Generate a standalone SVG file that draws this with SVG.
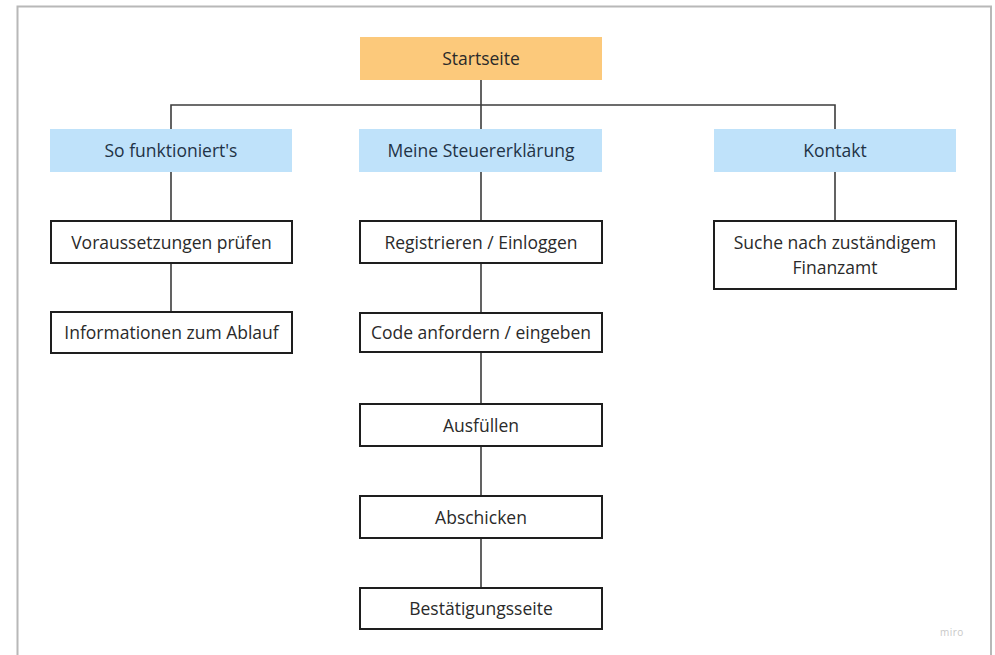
<svg xmlns="http://www.w3.org/2000/svg" width="995" height="655" viewBox="0 0 995 655">
<style>
.frame{fill:#ffffff;stroke:#b8b8b8;stroke-width:2}
.top{fill:#fcc97b}
.sec{fill:#bfe2fa}
.box{fill:#ffffff;stroke:#1e1e1e;stroke-width:2}
.lbl{font-family:"Open Sans","Noto Sans",sans-serif;font-size:17.5px;fill:#2a2a2a;text-anchor:middle;dominant-baseline:central}
.sl{fill:#1f3346}
.conn{fill:none;stroke:#3c3c3c;stroke-width:1.6}
.wm{font-family:"Open Sans",sans-serif;font-size:10px;fill:#c8c8c8;letter-spacing:0.5px}
</style>
<rect x="0" y="0" width="995" height="655" fill="#ffffff"/>
<path class="frame" d="M17.5 670 V6.5 H991 V670"/>
<g id="connectors">
<path class="conn" d="M481 80 V129"/>
<path class="conn" d="M171 129 V105 H835 V129"/>
<path class="conn" d="M171 172 V221 M171 263 V312"/>
<path class="conn" d="M481 172 V221 M481 263 V313 M481 352 V404 M481 446 V496 M481 538 V588"/>
<path class="conn" d="M835 172 V221"/>
</g>
<g id="startseite"><rect class="top" x="360" y="37" width="242" height="43"/><text class="lbl" x="481" y="58">Startseite</text></g>
<g id="so-funktionierts"><rect class="sec" x="50" y="129" width="242" height="43"/><text class="lbl sl" x="171" y="150">So funktioniert's</text></g>
<g id="meine-steuererklaerung"><rect class="sec" x="359" y="129" width="243" height="43"/><text class="lbl sl" x="481" y="150">Meine Steuererklärung</text></g>
<g id="kontakt"><rect class="sec" x="714" y="129" width="242" height="43"/><text class="lbl sl" x="835" y="150">Kontakt</text></g>
<g id="voraussetzungen"><rect class="box" x="51" y="221" width="241" height="42"/><text class="lbl" x="171.5" y="241.5">Voraussetzungen prüfen</text></g>
<g id="informationen"><rect class="box" x="51" y="312" width="241" height="41"/><text class="lbl" x="171.5" y="332">Informationen zum Ablauf</text></g>
<g id="registrieren"><rect class="box" x="360" y="221" width="242" height="42"/><text class="lbl" x="481" y="241.5">Registrieren / Einloggen</text></g>
<g id="code"><rect class="box" x="360" y="313" width="242" height="39"/><text class="lbl" x="481" y="332">Code anfordern / eingeben</text></g>
<g id="ausfuellen"><rect class="box" x="360" y="404" width="242" height="42"/><text class="lbl" x="481" y="424.5">Ausfüllen</text></g>
<g id="abschicken"><rect class="box" x="360" y="496" width="242" height="42"/><text class="lbl" x="481" y="516.5">Abschicken</text></g>
<g id="bestaetigungsseite"><rect class="box" x="360" y="588" width="242" height="41"/><text class="lbl" x="481" y="608">Bestätigungsseite</text></g>
<g id="suche"><rect class="box" x="714" y="221" width="242" height="68"/><text class="lbl" x="835" y="242">Suche nach zuständigem</text><text class="lbl" x="835" y="267">Finanzamt</text></g>
<text class="wm" x="940" y="636">miro</text>
</svg>
